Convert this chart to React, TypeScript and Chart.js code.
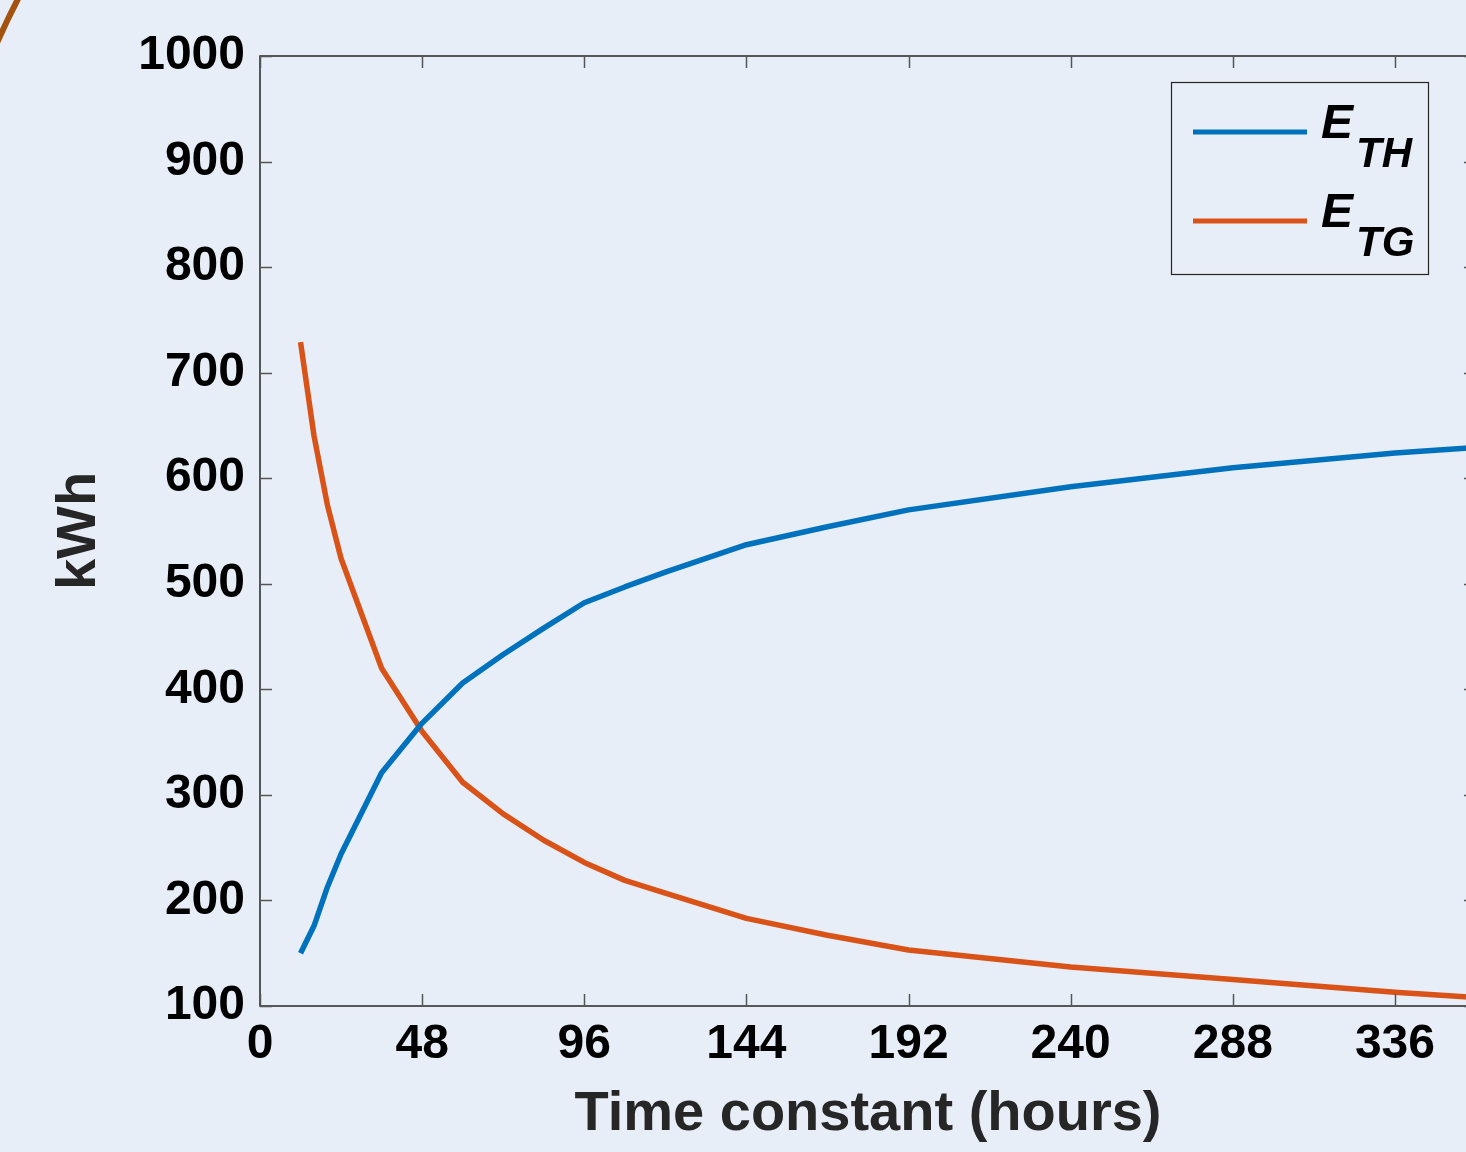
import React, { useEffect, useRef } from "react";
import { Chart, registerables } from "chart.js";

Chart.register(...registerables);

// ---- data ----
const hours = [12, 16, 20, 24, 36, 48, 60, 72, 84, 96, 108, 120, 144, 168, 192, 240, 288, 336, 360];
const eTH = [150, 176, 213, 244, 321, 368, 406, 433, 458, 482, 497, 511, 537, 554, 570, 592, 610, 624, 629];
const eTG = [729, 640, 574, 524, 420, 360, 312, 282, 257, 236, 219, 207, 183, 167, 153, 137, 125, 113, 108];
const xTickValues = [0, 48, 96, 144, 192, 240, 288, 336];
const yTickValues = [100, 200, 300, 400, 500, 600, 700, 800, 900, 1000];
const seriesMain = ["E", "E"];
const seriesSub = ["TH", "TG"];
const seriesColors = ["#0072BD", "#D95319"];
const xTitle = "Time constant (hours)";
const yTitle = "kWh";

const BG = "#E8EEF7";
const FONT = "'Liberation Sans', Arial, Helvetica, sans-serif";

const decorPlugin = {
  id: "decor",
  beforeDraw(chart: any) {
    const { ctx, width, height } = chart;
    ctx.save();
    ctx.fillStyle = BG;
    ctx.fillRect(0, 0, width, height);
    ctx.strokeStyle = "#A4520F";
    ctx.lineWidth = 6;
    ctx.beginPath();
    ctx.moveTo(-3, 43);
    ctx.quadraticCurveTo(7, 20, 19, -3);
    ctx.stroke();
    ctx.restore();
  },
  afterDatasetsDraw(chart: any) {
    const { ctx, chartArea: a, scales } = chart;
    const x = scales.x;
    const y = scales.y;
    ctx.save();
    ctx.strokeStyle = "#262626";
    ctx.lineWidth = 1.5;
    ctx.strokeRect(a.left, a.top, a.right - a.left, a.bottom - a.top);
    const tl = 12;
    ctx.strokeStyle = "#555";
    ctx.beginPath();
    xTickValues.forEach((v) => {
      const px = Math.round(x.getPixelForValue(v)) + 0.5;
      ctx.moveTo(px, a.bottom);
      ctx.lineTo(px, a.bottom - tl);
      ctx.moveTo(px, a.top);
      ctx.lineTo(px, a.top + tl);
    });
    yTickValues.forEach((v) => {
      const py = Math.round(y.getPixelForValue(v)) + 0.5;
      ctx.moveTo(a.left, py);
      ctx.lineTo(a.left + tl, py);
      ctx.moveTo(a.right, py);
      ctx.lineTo(a.right - tl, py);
    });
    ctx.stroke();

    // legend
    const bx = a.right - 305;
    const by = a.top + 26;
    const bw = 257;
    const bh = 192;
    ctx.strokeStyle = "#262626";
    ctx.lineWidth = 1.2;
    ctx.strokeRect(bx + 0.5, by + 0.5, bw, bh);
    const rows = [50, 139];
    rows.forEach((ry, i) => {
      ctx.strokeStyle = seriesColors[i];
      ctx.lineWidth = 5;
      ctx.beginPath();
      ctx.moveTo(bx + 22, by + ry);
      ctx.lineTo(bx + 136, by + ry);
      ctx.stroke();
      ctx.fillStyle = "#000";
      ctx.textBaseline = "alphabetic";
      ctx.textAlign = "left";
      ctx.font = `italic bold 48px ${FONT}`;
      const baseY = by + ry + 6;
      ctx.fillText(seriesMain[i], bx + 150, baseY);
      const w = ctx.measureText(seriesMain[i]).width;
      ctx.font = `italic bold 42px ${FONT}`;
      ctx.fillText(seriesSub[i], bx + 150 + w + 3, baseY + 29);
    });
    ctx.restore();
  },
};

export default function App() {
  const ref = useRef<HTMLCanvasElement | null>(null);

  useEffect(() => {
    if (!ref.current) return;
    const tickFont = { size: 48, weight: "bold" as const, family: FONT };
    const titleFont = { size: 56, weight: "bold" as const, family: FONT };
    const chart = new Chart(ref.current, {
      type: "line",
      data: {
        datasets: [
          {
            label: seriesMain[0] + seriesSub[0],
            data: hours.map((h, i) => ({ x: h, y: eTH[i] })),
            borderColor: seriesColors[0],
            backgroundColor: seriesColors[0],
            borderWidth: 5.5,
            pointRadius: 0,
            tension: 0,
            borderJoinStyle: "round",
            fill: false,
          },
          {
            label: seriesMain[1] + seriesSub[1],
            data: hours.map((h, i) => ({ x: h, y: eTG[i] })),
            borderColor: seriesColors[1],
            backgroundColor: seriesColors[1],
            borderWidth: 5.5,
            pointRadius: 0,
            tension: 0,
            borderJoinStyle: "round",
            fill: false,
          },
        ],
      },
      options: {
        responsive: false,
        animation: false,
        devicePixelRatio: 1,
        layout: { padding: { top: 56, right: 24, left: 0, bottom: 0 } },
        plugins: {
          legend: { display: false },
          tooltip: { enabled: false },
        },
        scales: {
          x: {
            type: "linear",
            min: 0,
            max: 360,
            afterBuildTicks: (s: any) => {
              s.ticks = xTickValues.map((v) => ({ value: v }));
            },
            ticks: {
              stepSize: 48,
              includeBounds: false,
              autoSkip: false,
              maxRotation: 0,
              color: "#000",
              font: tickFont,
              padding: 10,
              callback: (v: any) => String(v),
            },
            grid: { display: false, drawTicks: false },
            border: { display: false },
            title: {
              display: true,
              text: xTitle,
              color: "#262626",
              font: titleFont,
              padding: { top: 0, bottom: 4 },
            },
            afterFit: (s: any) => {
              s.height = 146;
            },
          },
          y: {
            type: "linear",
            min: 100,
            max: 1000,
            afterBuildTicks: (s: any) => {
              s.ticks = yTickValues.map((v) => ({ value: v }));
            },
            ticks: {
              stepSize: 100,
              autoSkip: false,
              color: "#000",
              font: tickFont,
              padding: 15,
              callback: (v: any) => String(v),
            },
            grid: { display: false, drawTicks: false },
            border: { display: false },
            title: {
              display: true,
              text: yTitle,
              color: "#262626",
              font: titleFont,
              padding: { top: 46, bottom: 0 },
            },
            afterFit: (s: any) => {
              s.width = 260;
            },
          },
        },
      },
      plugins: [decorPlugin],
    });
    return () => chart.destroy();
  }, []);

  return (
    <div
      style={{
        position: "fixed",
        left: 0,
        top: 0,
        width: 1466,
        height: 1152,
        overflow: "hidden",
        background: BG,
      }}
    >
      <canvas ref={ref} width={1500} height={1152} style={{ display: "block" }} />
    </div>
  );
}
